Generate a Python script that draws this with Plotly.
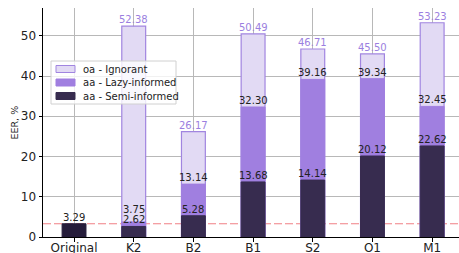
import plotly.graph_objects as go

categories = ["Original", "K2", "B2", "B1", "S2", "O1", "M1"]
oa_ignorant = [None, 52.38, 26.17, 50.49, 46.71, 45.50, 53.23]
aa_lazy = [None, 3.75, 13.14, 32.30, 39.16, 39.34, 32.45]
aa_semi = [3.29, 2.62, 5.28, 13.68, 14.14, 20.12, 22.62]
series_names = ["oa - Ignorant", "aa - Lazy-informed", "aa - Semi-informed"]
y_ticks = [0, 10, 20, 30, 40, 50]
y_title = "EER, %"

FONT = "DejaVu Sans"
LIGHT = "#e2daf4"
EDGE = "#a185e0"
MID = "#a07fe0"
DARK = "#372c4f"
DARK0 = "#261d3b"

W, H = 459, 253
L, R, T, B = 43, 0, 8, 16
PW, PH = W - L - R, H - T - B

def px_x(p):
    return (p - L) / PW

def px_y(p):
    return (H - B - p) / PH

fig = go.Figure()
fig.add_trace(go.Bar(
    x=categories, y=oa_ignorant, name=series_names[0], width=0.4,
    marker=dict(color=LIGHT, line=dict(color=EDGE, width=1.2)),
    showlegend=False,
))
fig.add_trace(go.Bar(
    x=categories, y=aa_lazy, name=series_names[1], width=0.4,
    marker=dict(color=MID, line=dict(color=MID, width=1)),
    showlegend=False,
))
semi_colors = [DARK0] + [DARK] * (len(categories) - 1)
fig.add_trace(go.Bar(
    x=categories, y=aa_semi, name=series_names[2], width=0.4,
    marker=dict(color=semi_colors, line=dict(color=semi_colors, width=1)),
    showlegend=False,
))

# value labels above each bar top
label_colors = ["#9b7fe0", "#222222", "#222222"]
extra_shift = {(1, "K2"): 6}
for si, (series, col) in enumerate(zip([oa_ignorant, aa_lazy, aa_semi], label_colors)):
    for cat, v in zip(categories, series):
        if v is None:
            continue
        fig.add_annotation(x=cat, y=v, text=f"{v:.2f}", showarrow=False,
                           xanchor="center", yanchor="bottom",
                           yshift=-1 + extra_shift.get((si, cat), 0),
                           font=dict(family=FONT, size=10, color=col))

fig.add_shape(type="line", xref="paper", yref="y", x0=0, x1=1,
              y0=aa_semi[0], y1=aa_semi[0],
              line=dict(color="#f07f84", width=1, dash="8px,3px"), layer="below")

# Compact legend (matplotlib-like) drawn in paper coordinates
fig.add_shape(type="rect", xref="paper", yref="paper",
              x0=px_x(51), x1=px_x(176), y0=px_y(104), y1=px_y(61),
              fillcolor="rgba(255,255,255,0.8)", line=dict(color="#d0d0d0", width=1),
              layer="above")
sw_fill = [LIGHT, MID, DARK]
sw_line = [EDGE, MID, DARK]
rows = [69, 82.5, 96]
for name, fc, lc, ry in zip(series_names, sw_fill, sw_line, rows):
    fig.add_shape(type="rect", xref="paper", yref="paper",
                  x0=px_x(56), x1=px_x(75), y0=px_y(ry + 3.5), y1=px_y(ry - 3.5),
                  fillcolor=fc, line=dict(color=lc, width=1), layer="above")
    fig.add_annotation(xref="paper", yref="paper", x=px_x(81), y=px_y(ry),
                       text=name, showarrow=False, xanchor="left", yanchor="middle",
                       font=dict(family=FONT, size=10, color="#222222"))

# y-axis title
fig.add_annotation(xref="paper", yref="paper", x=px_x(14), y=0.5, text=y_title,
                   textangle=-90, showarrow=False, xanchor="center", yanchor="middle",
                   font=dict(family=FONT, size=9.5, color="#222222"))

fig.update_layout(
    barmode="overlay",
    width=W, height=H,
    margin=dict(l=L, r=R, t=T, b=B, autoexpand=False),
    paper_bgcolor="white", plot_bgcolor="white",
    font=dict(family=FONT, size=12, color="#222222"),
    showlegend=False,
)
fig.update_xaxes(
    range=[-0.52, 6.45], showgrid=True, gridcolor="#b8b8b8", gridwidth=1,
    showline=True, linecolor="black", linewidth=1, mirror=False,
    ticks="outside", ticklen=3.5, tickcolor="black",
    tickfont=dict(family=FONT, size=12, color="#222222"),
    ticklabelstandoff=-4,
    layer="above traces", automargin=False,
)
fig.update_yaxes(
    range=[0, 56.9], tickvals=y_ticks, showgrid=True, gridcolor="#b8b8b8", gridwidth=1,
    showline=True, linecolor="black", linewidth=1, mirror=True,
    ticks="outside", ticklen=3.5, tickcolor="black",
    tickfont=dict(family=FONT, size=12, color="#222222"),
    zeroline=False, automargin=False,
    layer="above traces",
)

fig.write_html("out.html", config={"displayModeBar": False},
               post_script="document.body.style.margin='0';document.body.style.overflow='hidden';")
